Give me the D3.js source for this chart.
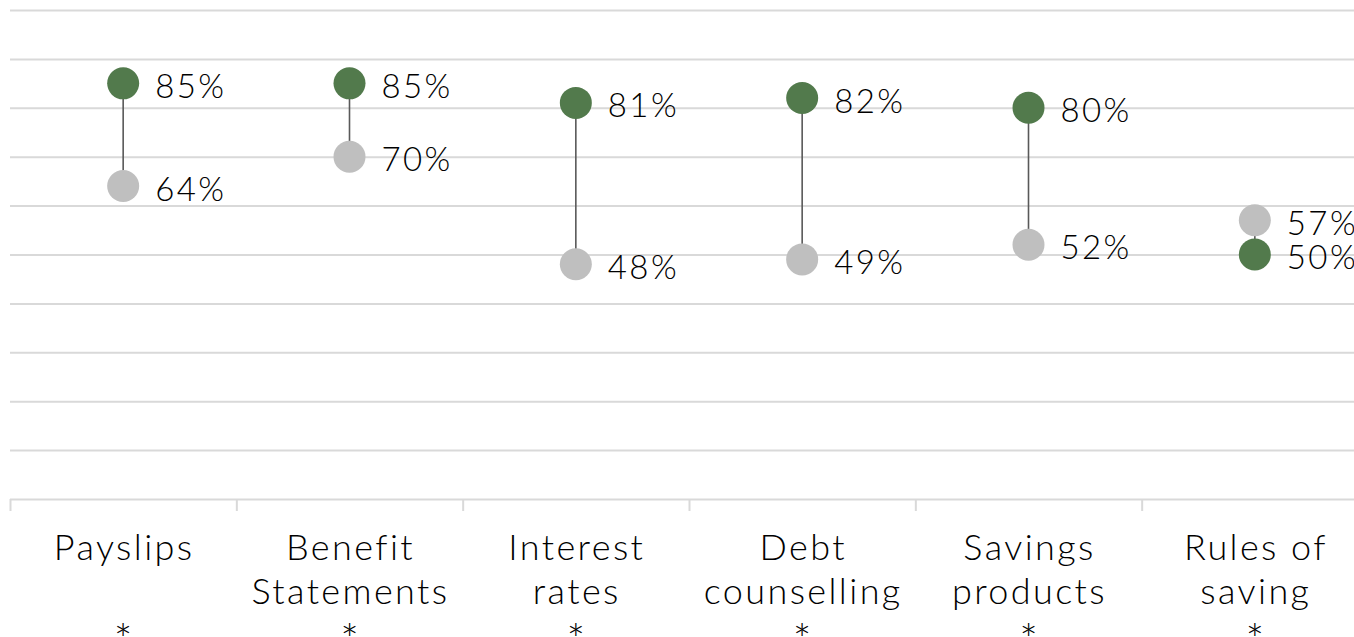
<!DOCTYPE html>
<html>
<head>
<meta charset="utf-8">
<script src="https://cdn.jsdelivr.net/npm/d3@7"></script>
<style>
  html, body { margin: 0; padding: 0; background: #ffffff; overflow: hidden; }
  svg { display: block; }
  text { font-family: Lato, "Open Sans", sans-serif; font-weight: 300; fill: #000000; }
</style>
</head>
<body>
<svg id="chart" width="1354" height="637"></svg>
<script>
// Survey topics shown along the x axis
const categories = ["Payslips", "Benefit Statements", "Interest rates", "Debt counselling", "Savings products", "Rules of saving"];
// Axis label lines for each topic (third line is the significance marker)
const categoryLines = [
  ["Payslips", "", "*"],
  ["Benefit", "Statements", "*"],
  ["Interest", "rates", "*"],
  ["Debt", "counselling", "*"],
  ["Savings", "products", "*"],
  ["Rules of", "saving", "*"]
];
// Share of respondents, in percent
const greenValues = [85, 85, 81, 82, 80, 50];
const greyValues  = [64, 70, 48, 49, 52, 57];
// Horizontal gridline positions
const yTicks = [0, 10, 20, 30, 40, 50, 60, 70, 80, 90, 100];

const svg = d3.select("#chart");
const plotLeft = 10, plotRight = 1368, plotTop = 10, plotBottom = 499;

const x = d3.scaleBand().domain(categories).range([plotLeft, plotRight]).paddingInner(0).paddingOuter(0);
const y = d3.scaleLinear().domain([0, 100]).range([plotBottom, plotTop]);

// Gridlines
const grid = svg.append("g")
  .attr("transform", `translate(${plotLeft},0)`)
  .call(d3.axisLeft(y).tickValues(yTicks).tickSize(-(1354 - plotLeft)).tickFormat(""));
grid.select(".domain").remove();
grid.selectAll(".tick line").attr("stroke", "#d9d9d9").attr("stroke-width", 2);

// Category boundary ticks on the baseline
const bounds = d3.scaleLinear().domain([0, categories.length]).range([plotLeft, plotRight]);
const xTicks = svg.append("g")
  .attr("transform", `translate(0,${plotBottom})`)
  .call(d3.axisBottom(bounds).tickValues(d3.range(categories.length + 1)).tickSize(12).tickFormat(""));
xTicks.select(".domain").remove();
xTicks.selectAll(".tick line").attr("stroke", "#d9d9d9").attr("stroke-width", 2);

// Category labels, one line per tspan; the marker line uses a larger glyph
const lineGap = 43.5;
const labels = svg.append("g")
  .attr("transform", `translate(0,${plotBottom})`)
  .call(d3.axisBottom(x).tickSize(0).tickFormat(""));
labels.select(".domain").remove();
labels.selectAll(".tick").each(function(d, i) {
  const t = d3.select(this).append("text")
    .attr("text-anchor", "middle")
    .style("font-size", "36px")
    .style("letter-spacing", "2.4px");
  categoryLines[i].forEach((line, k) => {
    if (!line) return;
    const span = t.append("tspan").attr("x", 1).attr("y", 61 + k * lineGap).text(line);
    if (k === 2) span.attr("x", 0).attr("y", 61 + k * lineGap + 9).style("font-size", "44px").style("letter-spacing", "0px");
  });
});

const cx = d => x(d) + x.bandwidth() / 2;
const rows = categories.map((c, i) => ({ c, g: greenValues[i], s: greyValues[i] }));

// Connectors
svg.append("g").selectAll("line").data(rows).join("line")
  .attr("x1", d => cx(d.c)).attr("x2", d => cx(d.c))
  .attr("y1", d => y(d.g)).attr("y2", d => y(d.s))
  .attr("stroke", "#595959").attr("stroke-width", 1.6);

// Grey dots
svg.append("g").selectAll("circle").data(rows).join("circle")
  .attr("cx", d => cx(d.c)).attr("cy", d => y(d.s)).attr("r", 16)
  .attr("fill", "#bfbfbf");

// Green dots
svg.append("g").selectAll("circle").data(rows).join("circle")
  .attr("cx", d => cx(d.c)).attr("cy", d => y(d.g)).attr("r", 16)
  .attr("fill", "#527a4c");

// Value labels
const valueLabel = (acc) => svg.append("g").selectAll("text").data(rows).join("text")
  .attr("x", d => cx(d.c) + 32)
  .attr("y", d => y(acc(d)) + 3)
  .attr("dy", "0.35em")
  .style("font-size", "33px")
  .style("letter-spacing", "2.4px")
  .text(d => acc(d) + "%");
valueLabel(d => d.s);
valueLabel(d => d.g);
</script>
</body>
</html>
